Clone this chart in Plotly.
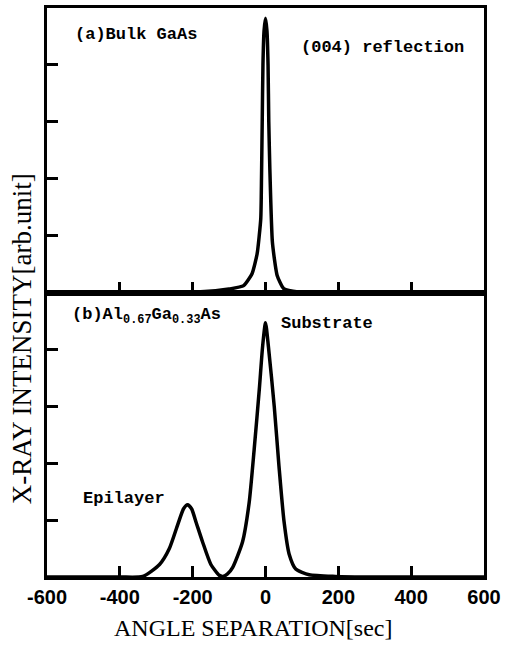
import plotly.graph_objects as go
from plotly.subplots import make_subplots

# (a) Bulk GaAs rocking curve
top_x = [-600, -300, -200, -137, -100, -60, -37, -23, -13, -11, -9, -7, -4, 0, 4, 7, 9, 12, 19, 32, 50, 90, 200, 600]
top_y = [0, 0, 0.005, 0.03, 0.06, 0.12, 0.33, 0.68, 1.3, 2.0, 3.0, 4.0, 4.6, 4.82, 4.6, 4.0, 3.0, 2.16, 0.88, 0.3, 0.07, 0.01, 0, 0]

# (b) Al0.67Ga0.33As rocking curve
bot_x = [-600, -400, -337, -291, -264, -241, -225, -214, -203, -190, -173, -150, -127, -118,
         -105, -90, -63, -45, -31, -17, -8, 0, 8, 24, 37, 51, 65, 83, 120, 192, 300, 600]
bot_y = [0, 0, 0.01, 0.22, 0.5, 0.92, 1.2, 1.27, 1.2, 0.95, 0.62, 0.22, 0.03, 0.01,
         0.05, 0.17, 0.62, 1.3, 2.25, 3.3, 4.05, 4.47, 4.05, 3.0, 1.95, 0.97, 0.4, 0.14, 0.04, 0.01, 0, 0]

x_ticks = [-600, -400, -200, 0, 200, 400, 600]
x_ticklabels = ["-600", "-400", "-200", "0", "200", "400", "600"]
y_ticks = [1, 2, 3, 4]

MONO = "Liberation Mono"
SERIF = "Liberation Serif"
NARROW = "Liberation Sans Narrow, Liberation Sans, sans-serif"

W, H = 506, 646
ML, MR, MT, MB = 47, 21, 5, 69

fig = make_subplots(rows=2, cols=1, shared_xaxes=False, vertical_spacing=0)

fig.add_trace(go.Scatter(x=top_x, y=top_y, mode="lines",
                         line=dict(color="black", width=3.5, shape="spline", smoothing=0.5),
                         showlegend=False, hoverinfo="skip"), row=1, col=1)
fig.add_trace(go.Scatter(x=bot_x, y=bot_y, mode="lines",
                         line=dict(color="black", width=3.5, shape="spline", smoothing=0.6),
                         showlegend=False, hoverinfo="skip"), row=2, col=1)

axis_common = dict(showline=True, linecolor="black", linewidth=3, mirror=True,
                   showgrid=False, zeroline=False, ticks="inside", ticklen=11,
                   tickwidth=3, tickcolor="black")

fig.update_xaxes(range=[-600, 600], tickvals=x_ticks[1:-1], showticklabels=False,
                 **axis_common, row=1, col=1)
fig.update_xaxes(range=[-600, 600], tickvals=x_ticks, ticktext=x_ticklabels,
                 tickfont=dict(family=NARROW, size=20, color="black", weight="bold"),
                 **axis_common, row=2, col=1)
fig.update_yaxes(range=[0, 5], tickvals=y_ticks, showticklabels=False,
                 **axis_common, row=1, col=1)
fig.update_yaxes(range=[0, 5], tickvals=y_ticks, showticklabels=False,
                 **axis_common, row=2, col=1)

ann_font = dict(family=MONO, size=17, color="black", weight="bold")
fig.add_annotation(x=-529, y=4.53, xref="x", yref="y", text="(a)Bulk GaAs",
                   showarrow=False, xanchor="left", yanchor="middle", font=ann_font)
fig.add_annotation(x=93, y=4.3, xref="x", yref="y", text="(004) reflection",
                   showarrow=False, xanchor="left", yanchor="middle", font=ann_font)
fig.add_annotation(x=-537, y=4.58, xref="x2", yref="y2",
                   text="(b)Al<sub>0.67</sub>Ga<sub>0.33</sub>As",
                   showarrow=False, xanchor="left", yanchor="middle", font=ann_font)
fig.add_annotation(x=38, y=4.45, xref="x2", yref="y2", text="Substrate",
                   showarrow=False, xanchor="left", yanchor="middle", font=ann_font)
fig.add_annotation(x=-507, y=1.38, xref="x2", yref="y2", text="Epilayer",
                   showarrow=False, xanchor="left", yanchor="middle", font=ann_font)

plot_w = W - ML - MR
plot_h = H - MT - MB
fig.add_annotation(x=(22 - ML) / plot_w, y=(H - MB - 338) / plot_h,
                   xref="paper", yref="paper", text="X-RAY INTENSITY[arb.unit]",
                   showarrow=False, textangle=-90, xanchor="center", yanchor="middle",
                   font=dict(family=SERIF, size=27, color="black"))
fig.add_annotation(x=(253 - ML) / plot_w, y=(H - MB - 628) / plot_h,
                   xref="paper", yref="paper", text="ANGLE SEPARATION[sec]",
                   showarrow=False, xanchor="center", yanchor="middle",
                   font=dict(family=SERIF, size=24, color="black"))

fig.update_layout(width=W, height=H, margin=dict(l=ML, r=MR, t=MT, b=MB),
                  paper_bgcolor="white", plot_bgcolor="white")

fig.write_html("out.html", config={"displayModeBar": False},
               post_script="document.body.style.margin='0px';document.body.style.overflow='hidden';")
